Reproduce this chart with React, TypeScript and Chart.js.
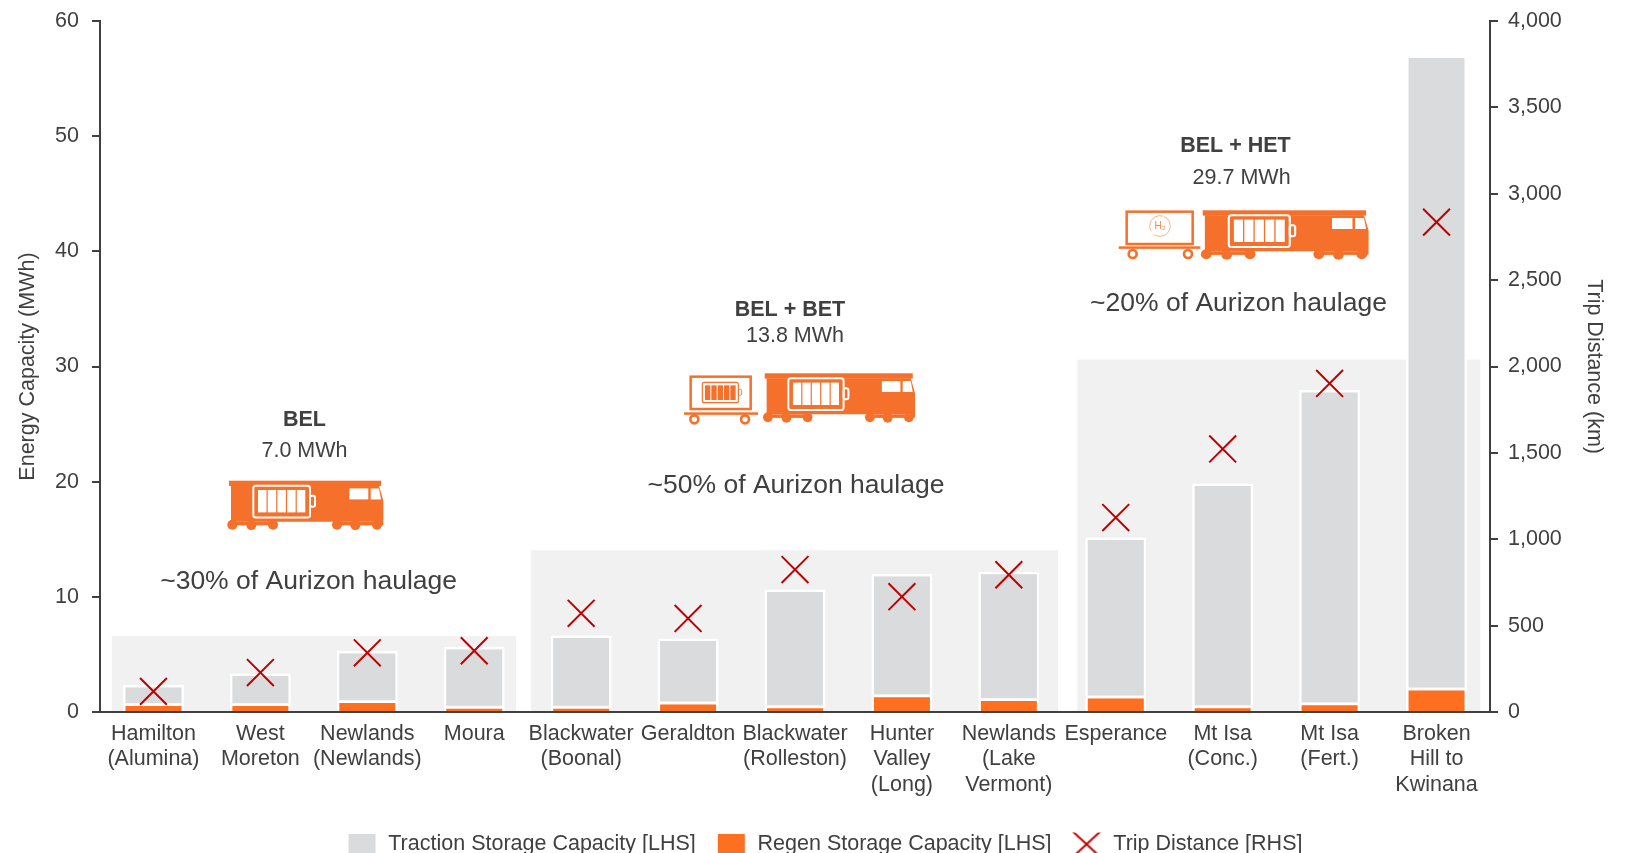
import React, { useEffect, useRef } from "react";
import { Chart, registerables } from "chart.js";

Chart.register(...registerables);

const categories = [
  ["Hamilton", "(Alumina)"], ["West", "Moreton"], ["Newlands", "(Newlands)"], ["Moura"],
  ["Blackwater", "(Boonal)"], ["Geraldton"], ["Blackwater", "(Rolleston)"], ["Hunter", "Valley", "(Long)"],
  ["Newlands", "(Lake", "Vermont)"], ["Esperance"], ["Mt Isa", "(Conc.)"], ["Mt Isa", "(Fert.)"],
  ["Broken", "Hill to", "Kwinana"],
];
const regenStorage = [0.75, 0.75, 1.0, 0.5, 0.5, 0.88, 0.55, 1.5, 1.18, 1.4, 0.55, 0.82, 2.1];
const tractionStorage = [1.6, 2.6, 4.3, 5.15, 6.15, 5.5, 10.1, 10.5, 11.0, 13.75, 19.3, 27.15, 54.9];
const tripDistance = [120, 229, 343, 355, 572, 542, 825, 668, 795, 1126, 1523, 1902, 2836];

const panelFrom = [-0.39, 3.53, 8.64];
const panelTo = [3.39, 8.46, 12.41];
const panelTop = [6.6, 14.05, 30.6];

const FONT = '"Liberation Sans", Arial, sans-serif';
const FS = 21.5;
const TEXT = "#404040";
const ORANGE = "#F4702B";
const BAR_ORANGE = "#FF6F20";
const GREY = "#DADBDC";
const RED = "#C00000";

function roundRect(ctx: any, x: number, y: number, w: number, h: number, r: number) {
  ctx.beginPath();
  ctx.roundRect(x, y, w, h, r);
}

function drawLoco(ctx: any, x0: number, y0: number, sx: number) {
  ctx.save();
  ctx.translate(x0, y0);
  ctx.scale(sx, 1);
  ctx.fillStyle = ORANGE;
  ctx.fillRect(0, 0, 152, 5.3);
  ctx.beginPath();
  ctx.moveTo(2, 5);
  ctx.lineTo(150, 5);
  ctx.lineTo(154.3, 20);
  ctx.lineTo(154.3, 44);
  ctx.lineTo(150, 46);
  ctx.lineTo(146, 41);
  ctx.lineTo(2, 41);
  ctx.closePath();
  ctx.fill();
  ctx.fillRect(3, 41, 44, 3.6);
  ctx.fillRect(108, 41, 42, 3.6);
  [[3.3, 44], [22.3, 44.4], [44, 44], [108, 44], [126.3, 44.4], [148, 44]].forEach(([x, y]) => {
    ctx.beginPath();
    ctx.arc(x, y, 5, 0, Math.PI * 2);
    ctx.fill();
  });
  ctx.fillStyle = "#fff";
  ctx.fillRect(120.3, 7.7, 19, 11);
  ctx.beginPath();
  ctx.moveTo(141.7, 7.7);
  ctx.lineTo(150, 7.7);
  ctx.lineTo(152, 18.7);
  ctx.lineTo(141.7, 18.7);
  ctx.closePath();
  ctx.fill();
  ctx.strokeStyle = "#fff";
  ctx.lineWidth = 2;
  roundRect(ctx, 24.3, 5, 56.7, 31.7, 2.5);
  ctx.stroke();
  for (let i = 0; i < 5; i++) ctx.fillRect(29 + i * 9.7, 9.3, 8.5, 22.4);
  roundRect(ctx, 81, 15, 5, 11, 2);
  ctx.stroke();
  ctx.restore();
}

function drawTrailerBase(ctx: any, rx: number, ry: number, rw: number, rh: number, px: number, py: number, pw: number, wheelY: number, w1: number, w2: number) {
  ctx.fillStyle = ORANGE;
  ctx.strokeStyle = ORANGE;
  ctx.lineWidth = 7.5;
  ctx.strokeRect(rx, ry, rw, rh);
  ctx.fillRect(px, py, pw, 7.5);
  ctx.lineWidth = 8;
  [w1, w2].forEach((x) => {
    ctx.beginPath();
    ctx.arc(x, wheelY, 12, 0, Math.PI * 2);
    ctx.stroke();
  });
}

function drawBetTrailer(ctx: any) {
  ctx.save();
  ctx.translate(670, 290);
  ctx.scale(1 / 3, 1 / 3);
  drawTrailerBase(ctx, 62, 260, 180, 97, 42, 367, 222, 388, 73, 225);
  ctx.lineWidth = 3.5;
  roundRect(ctx, 97, 277, 108, 61, 6);
  ctx.stroke();
  for (let i = 0; i < 5; i++) ctx.fillRect(105 + i * 19, 286, 16, 44);
  ctx.lineWidth = 2.5;
  roundRect(ctx, 205, 298, 10, 18, 4);
  ctx.stroke();
  ctx.restore();
}

function drawHetTrailer(ctx: any) {
  ctx.save();
  ctx.translate(1110, 130);
  ctx.scale(1 / 3, 1 / 3);
  drawTrailerBase(ctx, 50, 245, 198, 97, 26, 349, 245, 372, 68, 234);
  ctx.strokeStyle = "#F7A47A";
  ctx.lineWidth = 2.5;
  ctx.beginPath();
  ctx.arc(150, 288, 31, -1.2, 2.2);
  ctx.stroke();
  ctx.beginPath();
  ctx.arc(150, 288, 31, 2.6, 5.0);
  ctx.stroke();
  ctx.fillStyle = "#F08A55";
  ctx.font = `30px ${FONT}`;
  ctx.textAlign = "center";
  ctx.textBaseline = "middle";
  ctx.fillText("H₂", 150, 290);
  ctx.restore();
}

const notes = [
  { text: "BEL", x: 304.5, y: 420, size: FS, weight: "bold " },
  { text: "7.0 MWh", x: 304.5, y: 451.5, size: FS, weight: "" },
  { text: "~30% of Aurizon haulage", x: 308.6, y: 582, size: 26.5, weight: "" },
  { text: "BEL + BET", x: 790, y: 310, size: FS, weight: "bold " },
  { text: "13.8 MWh", x: 795, y: 336.5, size: FS, weight: "" },
  { text: "~50% of Aurizon haulage", x: 796, y: 486, size: 26.5, weight: "" },
  { text: "BEL + HET", x: 1235.5, y: 146.5, size: FS, weight: "bold " },
  { text: "29.7 MWh", x: 1241.6, y: 178.5, size: FS, weight: "" },
  { text: "~20% of Aurizon haulage", x: 1238.5, y: 304, size: 26.5, weight: "" },
];

const panelsPlugin = {
  id: "panels",
  beforeDatasetsDraw(chart: any) {
    const { ctx, scales } = chart;
    ctx.save();
    ctx.fillStyle = "#F1F1F1";
    panelFrom.forEach((from, i) => {
      const l = scales.x.getPixelForValue(from);
      const r = scales.x.getPixelForValue(panelTo[i]);
      const t = scales.y.getPixelForValue(panelTop[i]);
      ctx.fillRect(l, t, r - l, scales.y.getPixelForValue(0) - t);
    });
    ctx.restore();
  },
  afterDatasetsDraw(chart: any) {
    const { ctx } = chart;
    ctx.save();
    drawLoco(ctx, 229, 480.7, 1);
    drawLoco(ctx, 764.7, 373.3, 0.974);
    drawLoco(ctx, 1202.7, 210.3, 1.075);
    drawBetTrailer(ctx);
    drawHetTrailer(ctx);
    ctx.textAlign = "center";
    ctx.textBaseline = "middle";
    ctx.fillStyle = TEXT;
    notes.forEach((n) => {
      ctx.font = `${n.weight}${n.size}px ${FONT}`;
      ctx.fillText(n.text, n.x, n.y);
    });
    ctx.restore();
  },
};

const LEG_W = 50;
function legendBox(color: string) {
  const c = document.createElement("canvas");
  c.width = LEG_W;
  c.height = 20;
  const g = c.getContext("2d")!;
  g.fillStyle = color;
  g.fillRect(LEG_W - 29, 0, 27, 20);
  return c;
}
function legendCross() {
  const c = document.createElement("canvas");
  c.width = LEG_W;
  c.height = 28;
  const g = c.getContext("2d")!;
  g.strokeStyle = RED;
  g.lineWidth = 2;
  g.beginPath();
  g.moveTo(LEG_W - 30, 1);
  g.lineTo(LEG_W - 2, 27);
  g.moveTo(LEG_W - 2, 1);
  g.lineTo(LEG_W - 30, 27);
  g.stroke();
  return c;
}

const noPad = (s: any) => {
  s.paddingTop = 0;
  s.paddingBottom = 0;
  s.paddingLeft = 0;
  s.paddingRight = 0;
};

export default function App() {
  const ref = useRef<HTMLCanvasElement>(null);
  useEffect(() => {
    const font = { family: FONT, size: FS, lineHeight: 25 / FS };
    const xFont = { family: FONT, size: FS, lineHeight: 25.5 / FS };
    const chart = new Chart(ref.current!, {
      type: "bar",
      plugins: [panelsPlugin],
      data: {
        labels: categories,
        datasets: [
          {
            type: "line", label: "Trip Distance [RHS]", data: tripDistance, yAxisID: "y1", order: 0,
            showLine: false, pointStyle: "crossRot", pointRadius: 19, pointBorderWidth: 2,
            borderColor: RED, pointBorderColor: RED, backgroundColor: RED,
          },
          {
            label: "Regen Storage Capacity [LHS]", data: regenStorage, yAxisID: "y", order: 1,
            backgroundColor: BAR_ORANGE, borderColor: "#fff",
            borderWidth: { top: 2.5, left: 2.5, right: 2.5, bottom: 0 }, borderSkipped: false,
            barPercentage: 0.57, categoryPercentage: 1,
          },
          {
            label: "Traction Storage Capacity [LHS]", data: tractionStorage, yAxisID: "y", order: 2,
            backgroundColor: GREY, borderColor: "#fff",
            borderWidth: { top: 2.5, left: 2.5, right: 2.5, bottom: 0.5 }, borderSkipped: false,
            barPercentage: 0.57, categoryPercentage: 1,
          },
        ] as any,
      },
      options: {
        responsive: false,
        animation: false,
        layout: { padding: { top: 19, left: 0, right: 2, bottom: -12 } },
        plugins: {
          tooltip: { enabled: false },
          title: { display: false },
          legend: {
            position: "bottom",
            labels: {
              usePointStyle: true,
              pointStyleWidth: LEG_W,
              padding: 1,
              color: TEXT,
              font: { family: FONT, size: FS },
              generateLabels: () => [
                { text: "Traction Storage Capacity [LHS]", pointStyle: legendBox(GREY), fontColor: TEXT, lineWidth: 0, hidden: false },
                { text: "Regen Storage Capacity [LHS]", pointStyle: legendBox(BAR_ORANGE), fontColor: TEXT, lineWidth: 0, hidden: false },
                { text: "Trip Distance [RHS]", pointStyle: legendCross(), fontColor: TEXT, lineWidth: 0, hidden: false },
              ] as any,
            },
          },
        },
        scales: {
          x: {
            stacked: true,
            grid: { display: false },
            border: { color: TEXT, width: 2, z: 1 },
            ticks: { color: TEXT, font: xFont, padding: 1, maxRotation: 0, minRotation: 0, autoSkip: false },
            afterFit: (s: any) => { noPad(s); s.height = 120.4; },
          },
          y: {
            stacked: true,
            position: "left",
            min: 0,
            max: 60,
            grid: { drawOnChartArea: false, color: TEXT, lineWidth: 2, tickLength: 8 },
            border: { color: TEXT, width: 2, z: 1 },
            ticks: { color: TEXT, font, stepSize: 10, padding: 13 },
            title: { display: true, text: "Energy Capacity (MWh)", color: TEXT, font, padding: { top: 15.5, bottom: 0 } },
            afterFit: (s: any) => { noPad(s); s.width = 100; },
          },
          y1: {
            position: "right",
            min: 0,
            max: 4000,
            grid: { drawOnChartArea: false, color: TEXT, lineWidth: 2, tickLength: 8 },
            border: { color: TEXT, width: 2, z: 1 },
            ticks: { color: TEXT, font, stepSize: 500, padding: 10 },
            title: { display: true, text: "Trip Distance (km)", color: TEXT, font, padding: { top: 24, bottom: 0 } },
            afterFit: (s: any) => { noPad(s); s.width = 140; },
          },
        },
      } as any,
    });
    return () => chart.destroy();
  }, []);
  return (
    <canvas
      ref={ref}
      width={1632}
      height={853}
      style={{ position: "fixed", left: 0, top: 0, width: 1632, height: 853, display: "block" }}
    />
  );
}
